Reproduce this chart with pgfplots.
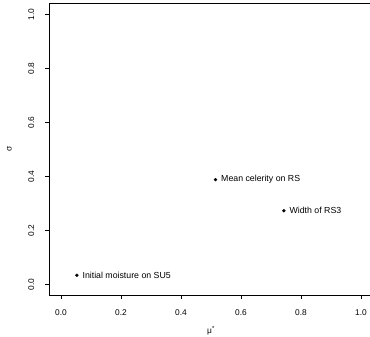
\documentclass[border=0pt]{standalone}
\usepackage{fontspec}
\setmainfont{Liberation Sans}
\usepackage{pgfplots}
\pgfplotsset{compat=1.18}
\begin{document}
\begin{tikzpicture}
\path[use as bounding box] (-49bp,-42bp) rectangle (321bp,295bp);
\begin{axis}[name=ax, at={(0,0)}, anchor=south west,
  scale only axis, width=324bp, height=291.6bp,
  xmin=-0.04, xmax=1.04, ymin=-0.04, ymax=1.04,
  xtick={0,0.2,0.4,0.6,0.8,1.0}, ytick={0,0.2,0.4,0.6,0.8,1.0},
  xticklabels={0.0,0.2,0.4,0.6,0.8,1.0},
  yticklabels={0.0,0.2,0.4,0.6,0.8,1.0},
  tick align=outside, tick pos=left, major tick length=4bp,
  axis line style={line width=0.75bp},
  every tick/.style={black, line width=0.6bp},
  font=\fontsize{8.4}{10}\selectfont,
  /pgf/number format/assume math mode=true,
  xticklabel style={anchor=north, inner sep=0pt},
  yticklabel style={rotate=90, anchor=south, inner sep=0pt},
  xticklabel shift=10bp, yticklabel shift=10.5bp,
  clip=false,
]
\addplot[only marks, mark=*, mark size=1.5bp, black,
  point meta=explicit symbolic,
  nodes near coords,
  nodes near coords style={anchor=west, inner sep=0pt, xshift=5.5bp, font=\fontsize{8.8}{10}\selectfont}]
  coordinates {
  (0.053,0.033) [Initial moisture on SU5]
  (0.515,0.387) [Mean celerity on RS]
  (0.743,0.272) [Width of RS3]
  };
\node[rotate=90, inner sep=0pt, font=\fontsize{8.4}{10}\selectfont] at ([xshift=-39.5bp]rel axis cs:0,0.5) {σ};
\node[anchor=base, inner sep=0pt, font=\fontsize{8.4}{10}\selectfont] at ([yshift=-38.5bp]rel axis cs:0.5,0) {μ\textsuperscript{*}};
\end{axis}
\end{tikzpicture}
\end{document}
